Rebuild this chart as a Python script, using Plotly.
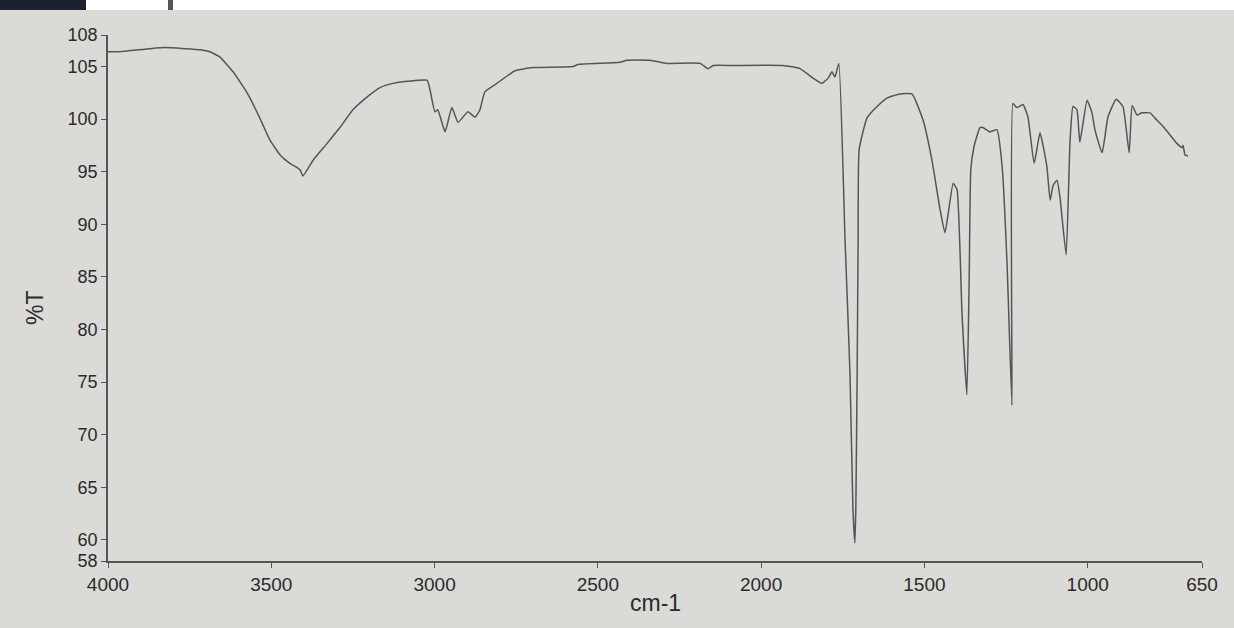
import plotly.graph_objects as go

# IR spectrum
wavenumber = [
    4000, 3969, 3871, 3825, 3764, 3718, 3688, 3657, 3617, 3574,
    3535, 3504, 3473, 3443, 3421, 3412, 3403, 3372, 3329, 3290,
    3250, 3207, 3167, 3127, 3084, 3023, 3014, 2999, 2990, 2968,
    2947, 2928, 2898, 2876, 2861, 2846, 2809, 2754, 2699, 2576,
    2561, 2432, 2411, 2340, 2288, 2187, 2163, 2147, 2086, 1933,
    1881, 1841, 1814, 1795, 1783, 1774, 1762, 1743, 1728, 1719,
    1713, 1710, 1706, 1703, 1700, 1676, 1645, 1615, 1575, 1538,
    1504, 1477, 1452, 1437, 1412, 1400, 1385, 1370, 1363, 1358,
    1348, 1330, 1321, 1299, 1278, 1262, 1247, 1232, 1229, 1217,
    1198, 1183, 1164, 1146, 1125, 1115, 1106, 1094, 1085, 1066,
    1054, 1045, 1033, 1024, 1002, 987, 978, 956, 938, 913,
    892, 873, 864, 849, 834, 809, 794, 769, 748, 727,
    711, 708, 702, 693,
]
transmittance = [
    106.4, 106.4, 106.7, 106.8, 106.7, 106.6, 106.4, 105.9, 104.5, 102.5,
    100.1, 98.0, 96.6, 95.8, 95.4, 95.2, 94.6, 96.1, 97.7, 99.2,
    100.9, 102.1, 103.0, 103.4, 103.6, 103.7, 102.8, 100.7, 100.9, 98.8,
    101.1, 99.7, 100.7, 100.2, 100.9, 102.6, 103.4, 104.6, 104.9, 105.0,
    105.2, 105.4, 105.6, 105.6, 105.3, 105.3, 104.8, 105.1, 105.1, 105.1,
    104.8, 103.9, 103.4, 103.9, 104.5, 104.0, 105.3, 88.5, 75.9, 63.1,
    59.7, 63.1, 75.9, 88.5, 97.1, 100.1, 101.2, 102.0, 102.4, 102.4,
    99.9, 96.1, 91.4, 89.2, 93.9, 93.3, 81.6, 73.8, 84.7, 95.2,
    97.4, 99.2, 99.2, 98.8, 99.0, 95.5, 86.3, 72.8, 101.5, 101.1,
    101.4, 100.2, 95.8, 98.7, 95.5, 92.3, 93.7, 94.2, 92.6, 87.1,
    98.0, 101.2, 100.9, 97.8, 101.8, 100.6, 99.0, 96.8, 100.2, 101.9,
    101.2, 96.8, 101.3, 100.4, 100.6, 100.6, 100.1, 99.3, 98.5, 97.7,
    97.3, 97.5, 96.6, 96.5,
]

x_ticks = [4000, 3500, 3000, 2500, 2000, 1500, 1000, 650]
y_ticks = [58, 60, 65, 70, 75, 80, 85, 90, 95, 100, 105, 108]

PAPER = "#dadad6"
AXIS = "#555555"
TEXT = "#2b2b2b"
FONT = "Liberation Sans, Arial, sans-serif"

fig = go.Figure()
fig.add_trace(go.Scatter(
    x=wavenumber, y=transmittance, mode="lines",
    line=dict(color="#555555", width=1.5, shape="spline", smoothing=0.4),
    showlegend=False, hoverinfo="x+y",
))

L, R, T, B = 108, 32, 35, 67
W, H = 1234, 628
pw, ph = W - L - R, H - T - B


def px(xp):
    return (xp - L) / pw


def py(yp):
    return (H - B - yp) / ph


fig.update_layout(
    width=W, height=H,
    margin=dict(l=L, r=R, t=T, b=B),
    paper_bgcolor=PAPER, plot_bgcolor=PAPER,
    font=dict(family=FONT, color=TEXT),
    xaxis=dict(
        range=[4000, 650], tickmode="array", tickvals=x_ticks,
        ticktext=[str(v) for v in x_ticks],
        showgrid=False, zeroline=False, showline=True,
        linecolor=AXIS, linewidth=1.5, ticks="outside", ticklen=5,
        tickcolor=AXIS, tickwidth=1, tickfont=dict(size=19, color=TEXT),
        ticklabelstandoff=0,
    ),
    yaxis=dict(
        range=[58, 108], tickmode="array", tickvals=y_ticks,
        ticktext=[str(v) for v in y_ticks],
        showgrid=False, zeroline=False, showline=True,
        linecolor=AXIS, linewidth=1.5, ticks="outside", ticklen=5,
        tickcolor=AXIS, tickwidth=1, tickfont=dict(size=18, color=TEXT),
        ticklabelstandoff=0,
    ),
    annotations=[
        dict(text="cm-1", x=px(655), y=py(603), xref="paper", yref="paper",
             showarrow=False, font=dict(size=23, color=TEXT, family=FONT),
             xanchor="center", yanchor="middle"),
        dict(text="%T", x=px(35), y=py(308), xref="paper", yref="paper",
             showarrow=False, textangle=-90,
             font=dict(size=23, color=TEXT, family=FONT),
             xanchor="center", yanchor="middle"),
    ],
    shapes=[
        dict(type="rect", xref="paper", yref="paper", x0=px(0), x1=px(W),
             y0=py(10), y1=py(0), fillcolor="#ffffff", line=dict(width=0),
             layer="above"),
        dict(type="rect", xref="paper", yref="paper", x0=px(0), x1=px(86),
             y0=py(10), y1=py(0), fillcolor="#1b2130", line=dict(width=0),
             layer="above"),
        dict(type="rect", xref="paper", yref="paper", x0=px(168), x1=px(173),
             y0=py(10), y1=py(0), fillcolor="#555555", line=dict(width=0),
             layer="above"),
    ],
)

fig.write_html("out.html")
